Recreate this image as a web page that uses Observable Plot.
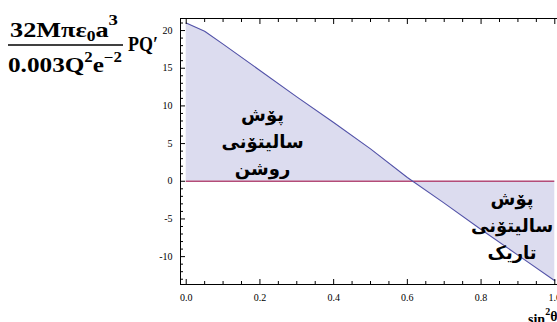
<!DOCTYPE html>
<html>
<head>
<meta charset="utf-8">
<script src="https://cdn.jsdelivr.net/npm/d3@7"></script>
<script src="https://cdn.jsdelivr.net/npm/@observablehq/plot@0.6"></script>
<style>
  html, body { margin: 0; padding: 0; background: white; }
  #chart { position: relative; width: 557px; height: 322px; overflow: hidden; }
  #chart svg text { font-family: "Liberation Serif", "Times New Roman", serif !important; }
  #chart svg .anno text { font-family: "DejaVu Sans", sans-serif !important; }
</style>
</head>
<body>
<div id="chart"></div>
<script>
// Series: sin^2(theta) vs scaled PQ'
const sin2 = [0, 0.05, 0.1, 0.2, 0.3, 0.4, 0.5, 0.6, 0.7, 0.8, 0.9, 1.0];
const pq   = [21.0, 19.9, 18.2, 14.7, 11.2, 7.8, 4.3, 0.5, -2.9, -6.4, -9.8, -13.2];

// Tick values
const yMajor = [-10, -5, 0, 5, 10, 15, 20];
const yMinor = d3.range(-13, 22).filter(v => v % 5 !== 0);
const xMajor = [0, 0.2, 0.4, 0.6, 0.8, 1.0];
const xMinor = d3.range(1, 20).filter(i => i % 4 !== 0).map(i => i / 20);

// Annotations
const annoText = ["پۆش\nسالیتۆنی\nروشن", "پۆش\nسالیتۆنی\nتاریک"];
const annoX = [0.207, 0.884];
const annoY = [5.5, -5.6];

const data = sin2.map((x, i) => ({x, y: pq[i]}));
const annos = annoText.map((t, i) => ({t, x: annoX[i], y: annoY[i]}));

const axisFont = {fontSize: 10};

const plot = Plot.plot({
  width: 557,
  height: 322,
  marginLeft: 180,
  marginRight: -3,
  marginTop: 18,
  marginBottom: 38,
  x: {domain: [-0.0155, 1.0155]},
  y: {domain: [-13.7, 21.6]},
  style: {background: "white", color: "black"},
  marks: [
    Plot.areaY(data, {x: "x", y: "y", fill: "#dcdcef"}),
    Plot.ruleY([0], {x1: 0, x2: 1, stroke: "#b44c78", strokeWidth: 1.6}),
    Plot.lineY(data, {x: "x", y: "y", stroke: "#5252a8", strokeWidth: 1.1}),
    Plot.text(annos, {x: "x", y: "y", text: "t", className: "anno", fontWeight: "bold", fontSize: 18, lineHeight: 1.5, fill: "black"}),
    Plot.frame({stroke: "black", strokeWidth: 1}),
    // y labels and ticks
    Plot.axisY(yMajor, {anchor: "left", tickSize: 0, tickPadding: 8, label: null, tickFormat: d => String(d), ...axisFont}),
    Plot.axisY(yMajor, {anchor: "left", tickSize: -5, tickFormat: () => "", label: null}),
    Plot.axisY(yMinor, {anchor: "left", tickSize: -3, tickFormat: () => "", label: null}),
    // x labels and ticks
    Plot.axisX(xMajor, {anchor: "bottom", tickSize: 0, tickPadding: 9, label: null, tickFormat: d3.format(".1f"), ...axisFont}),
    Plot.axisX(xMajor, {anchor: "bottom", tickSize: -5, tickFormat: () => "", label: null}),
    Plot.axisX(xMinor, {anchor: "bottom", tickSize: -3, tickFormat: () => "", label: null}),
    Plot.axisX(xMajor, {anchor: "top", tickSize: -5, tickFormat: () => "", label: null}),
    Plot.axisX(xMinor, {anchor: "top", tickSize: -3, tickFormat: () => "", label: null})
  ]
});

document.getElementById("chart").appendChild(plot);

// Axis titles as real SVG text
const svg = d3.select(plot);
const g = svg.append("g")
  .attr("font-weight", "bold")
  .attr("text-anchor", "start")
  .attr("fill", "black");

// numerator
const num = g.append("text").attr("x", 10).attr("y", 37).attr("font-size", 21)
  .attr("textLength", 108).attr("lengthAdjust", "spacingAndGlyphs");
num.append("tspan").text("32Mπε");
num.append("tspan").attr("dy", 4).attr("font-size", 14).text("0");
num.append("tspan").attr("dy", -4).text("a");
num.append("tspan").attr("dy", -12).attr("font-size", 15).text("3");

g.append("line").attr("x1", 8).attr("x2", 123).attr("y1", 45).attr("y2", 45)
  .attr("stroke", "black").attr("stroke-width", 1.6);

// denominator
const den = g.append("text").attr("x", 8).attr("y", 72).attr("font-size", 21)
  .attr("textLength", 114).attr("lengthAdjust", "spacingAndGlyphs");
den.append("tspan").text("0.003Q");
den.append("tspan").attr("dy", -10).attr("font-size", 14).text("2");
den.append("tspan").attr("dy", 10).text("e");
den.append("tspan").attr("dy", -10).attr("font-size", 14).text("−2");

g.append("text").attr("x", 128).attr("y", 51).attr("font-size", 21)
  .attr("textLength", 30).attr("lengthAdjust", "spacingAndGlyphs").text("PQ′");

// x title
const xt = g.append("text").attr("x", 528).attr("y", 324).attr("font-size", 14);
xt.append("tspan").text("sin");
xt.append("tspan").attr("dy", -9).attr("font-size", 10).text("2");
xt.append("tspan").attr("dy", 6).text("θ");
</script>
</body>
</html>
